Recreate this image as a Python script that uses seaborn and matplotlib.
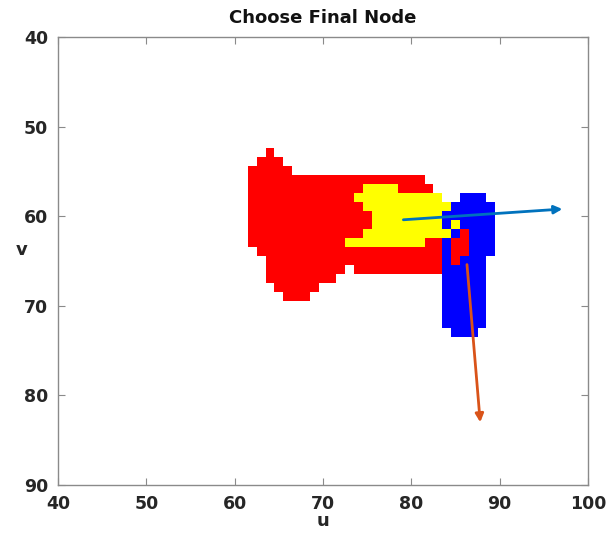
import numpy as np
import matplotlib
matplotlib.use("Agg")
import matplotlib.pyplot as plt
import seaborn as sns
from matplotlib.colors import ListedColormap

# Occupancy cells as (v, u_first, u_last) runs, one list per class
red_runs = [
    (53, 64, 64), (54, 63, 65), (55, 62, 66),
    (56, 62, 81), (57, 62, 82), (58, 62, 83), (59, 62, 83), (60, 62, 83),
    (61, 62, 83), (62, 62, 83), (63, 62, 83), (64, 63, 83), (65, 64, 83),
    (66, 64, 72), (66, 74, 83), (67, 64, 71), (68, 65, 69), (69, 66, 68),
]
yellow_runs = [
    (57, 75, 78), (58, 74, 83), (59, 75, 84), (60, 76, 83), (61, 76, 83),
    (61, 85, 85), (62, 75, 84), (63, 73, 81),
]
blue_runs = [
    (58, 86, 88), (59, 85, 89), (60, 84, 89), (61, 84, 84), (61, 86, 89),
    (62, 85, 89), (63, 84, 89), (64, 84, 89), (65, 84, 88), (66, 84, 88),
    (67, 84, 88), (68, 84, 88), (69, 84, 88), (70, 84, 88), (71, 84, 88),
    (72, 84, 88), (73, 85, 87),
]
red_patch_runs = [(62, 86, 86), (63, 85, 86), (64, 85, 86), (65, 85, 85)]

# Direction vectors: start and end points
arrow_u0 = [79.1, 86.3]
arrow_v0 = [60.4, 65.4]
arrow_u1 = [97.1, 87.8]
arrow_v1 = [59.2, 83.0]
arrow_colors = ["#0072BD", "#D95319"]

x_ticks = [40, 50, 60, 70, 80, 90, 100]
y_ticks = [40, 50, 60, 70, 80, 90]

sns.set_theme(style="white")
plt.rcParams["font.family"] = ["DejaVu Sans"]

u_vals = np.arange(40, 101)
v_vals = np.arange(40, 91)
grid = np.zeros((len(v_vals), len(u_vals)), dtype=int)


def paint(runs, code):
    for v, a, b in runs:
        grid[v - 40, a - 40:b - 40 + 1] = code


paint(red_runs, 1)
paint(yellow_runs, 2)
paint(blue_runs, 3)
paint(red_patch_runs, 1)

fig = plt.figure(figsize=(6.10, 5.35), dpi=100)
ax = fig.add_axes([58 / 610, 1 - 485 / 535, 530 / 610, 448 / 535])

cmap = ListedColormap(["#FF0000", "#FFFF00", "#0000FF"])
masked = np.ma.masked_where(grid == 0, grid)
ax.imshow(masked, cmap=cmap, vmin=0.5, vmax=3.5, interpolation="nearest",
          extent=(39.5, 100.5, 90.5, 39.5), aspect="auto")

for u0, v0, u1, v1, c in zip(arrow_u0, arrow_v0, arrow_u1, arrow_v1, arrow_colors):
    ax.annotate("", xy=(u1, v1), xytext=(u0, v0),
                arrowprops=dict(arrowstyle="-|>", color=c, lw=2.0,
                                mutation_scale=12, shrinkA=0, shrinkB=0))

ax.set_xlim(40, 100)
ax.set_ylim(90, 40)
ax.set_xticks(x_ticks)
ax.set_yticks(y_ticks)
ax.set_xticklabels([str(t) for t in x_ticks], fontsize=12.5, fontweight="bold", color="#262626")
ax.set_yticklabels([str(t) for t in y_ticks], fontsize=12.5, fontweight="bold", color="#262626")
ax.tick_params(direction="in", length=5, width=0.8, color="#8a8a8a",
               top=True, right=True, bottom=True, left=True)
ax.tick_params(axis="x", pad=7)
ax.tick_params(axis="y", pad=7)
for s in ax.spines.values():
    s.set_color("#8a8a8a")
    s.set_linewidth(1.0)

ax.set_title("Choose Final Node", fontsize=13, fontweight="bold", color="#111111", pad=10)
ax.set_xlabel("u", fontsize=13, fontweight="bold", color="#262626", va="center")
ax.set_ylabel("v", fontsize=13, fontweight="bold", color="#262626", rotation=0,
              va="center", ha="center")
ax.xaxis.set_label_coords(0.5, -(521 - 485) / 448)
ax.yaxis.set_label_coords((22 - 58) / 530, (485 - 250) / 448)

fig.savefig("out.png", dpi=100)
